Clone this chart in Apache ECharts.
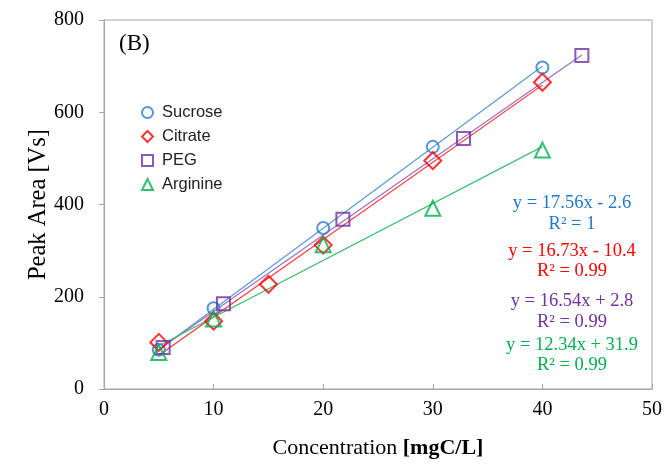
<!DOCTYPE html>
<html>
<head>
<meta charset="utf-8">
<script src="https://cdn.jsdelivr.net/npm/echarts@6/dist/echarts.min.js"></script>
<style>html,body{margin:0;padding:0;background:#fff;}#c{width:665px;height:468px;}</style>
</head>
<body>
<div id="c"></div>
<script>
// ---- data ----
const seriesNames = ['Sucrose', 'Citrate', 'PEG', 'Arginine'];
const sucroseX = [5, 10, 20, 30, 40];
const sucroseY = [85, 175, 349, 525, 697];
const citrateX = [5, 10, 15, 20, 30, 40];
const citrateY = [101, 147, 227, 312, 495, 665];
const pegX = [5.4, 10.9, 21.8, 32.8, 43.6];
const pegY = [90, 185, 368, 543, 723];
const arginineX = [5, 10, 20, 30, 40];
const arginineY = [79, 152, 313, 392, 518];
const slopes = [17.56, 16.73, 16.54, 12.34];
const intercepts = [-2.6, -10.4, 2.8, 31.9];
const eqLabels = ['y = 17.56x - 2.6', 'y = 16.73x - 10.4', 'y = 16.54x + 2.8', 'y = 12.34x + 31.9'];
const r2Labels = ['R\u00b2 = 1', 'R\u00b2 = 0.99', 'R\u00b2 = 0.99', 'R\u00b2 = 0.99'];
const xTicks = [0, 10, 20, 30, 40, 50];
const yTicks = [0, 200, 400, 600, 800];

const xs = [sucroseX, citrateX, pegX, arginineX];
const ys = [sucroseY, citrateY, pegY, arginineY];
const markerColors = ['#2E7BC4', '#FF0000', '#7030A0', '#00B050'];
const lineColors = ['#5B9BD5', '#FF3030', '#9B6FC8', '#3CC070'];
const eqColors = ['#1F78C8', '#FF0000', '#7030A0', '#00B050'];
const symbols = ['circle', 'diamond', 'rect', 'triangle'];
const symSizes = [12, 17, 13, 15];

const serif = '"Liberation Serif", "Times New Roman", serif';
const sans = '"Liberation Sans", Arial, sans-serif';

const series = [];
// trendlines
for (let i = 0; i < 4; i++) {
  const x0 = xs[i][0], x1 = xs[i][xs[i].length - 1];
  series.push({
    type: 'line', name: seriesNames[i] + ' trend', silent: true, symbol: 'none',
    data: [[x0, slopes[i] * x0 + intercepts[i]], [x1, slopes[i] * x1 + intercepts[i]]],
    lineStyle: { color: lineColors[i], width: 1.2 }, z: 2
  });
}
// scatter markers
for (let i = 0; i < 4; i++) {
  series.push({
    type: 'scatter', name: seriesNames[i], symbol: symbols[i], symbolSize: symSizes[i],
    data: xs[i].map((x, k) => [x, ys[i][k]]),
    itemStyle: { color: 'rgba(255,255,255,0)', borderColor: markerColors[i], borderWidth: 2 },
    z: 5 + i
  });
}

const graphics = [{
  type: 'text', left: 119, top: 32,
  style: { text: '(B)', font: '23px ' + serif, fill: '#000' }
}];
const eqY = [203, 251, 301, 345];
const r2Y = [224, 271, 322, 365];
for (let i = 0; i < 4; i++) {
  graphics.push({ type: 'text', x: 572, y: eqY[i], style: { text: eqLabels[i], font: '18.5px ' + serif, fill: eqColors[i], align: 'center', verticalAlign: 'middle' } });
  graphics.push({ type: 'text', x: 572, y: r2Y[i], style: { text: r2Labels[i], font: '18.5px ' + serif, fill: eqColors[i], align: 'center', verticalAlign: 'middle' } });
}

const chart = echarts.init(document.getElementById('c'), null, { renderer: 'canvas' });
chart.setOption({
  animation: false,
  backgroundColor: '#fff',
  grid: { left: 104, right: 13, top: 20, bottom: 79, show: true, borderColor: '#A6A6A6', borderWidth: 1 },
  legend: {
    data: seriesNames, orient: 'vertical', left: 141, top: 104, itemWidth: 11, itemHeight: 11, itemGap: 7,
    itemStyle: { borderWidth: 2 },
    textStyle: { fontFamily: sans, fontSize: 16.5, color: '#222', padding: [0, 0, 0, 4] }, padding: 0
  },
  xAxis: {
    type: 'value', min: xTicks[0], max: xTicks[xTicks.length - 1], interval: 10,
    name: 'Concentration {b|[mgC/L]}', nameLocation: 'middle', nameGap: 48,
    nameTextStyle: { fontFamily: serif, fontSize: 22, color: '#000', rich: { b: { fontFamily: serif, fontSize: 22, fontWeight: 'bold', color: '#000' } } },
    axisLine: { lineStyle: { color: '#A6A6A6' } },
    axisTick: { inside: true, length: 5, lineStyle: { color: '#A6A6A6' } },
    axisLabel: { fontFamily: serif, fontSize: 20, color: '#000', margin: 11 },
    splitLine: { show: false }
  },
  yAxis: {
    type: 'value', min: yTicks[0], max: yTicks[yTicks.length - 1], interval: 200,
    name: 'Peak Area [Vs]', nameLocation: 'middle', nameGap: 53, nameMoveOverlap: false,
    nameTextStyle: { fontFamily: serif, fontSize: 24.5, color: '#000' },
    axisLine: { show: true, lineStyle: { color: '#A6A6A6' } },
    axisTick: { show: true, length: 5, lineStyle: { color: '#A6A6A6' } },
    axisLabel: { fontFamily: serif, fontSize: 20, color: '#000', margin: 20 },
    splitLine: { show: false }
  },
  series: series,
  graphic: graphics
});
</script>
</body>
</html>
